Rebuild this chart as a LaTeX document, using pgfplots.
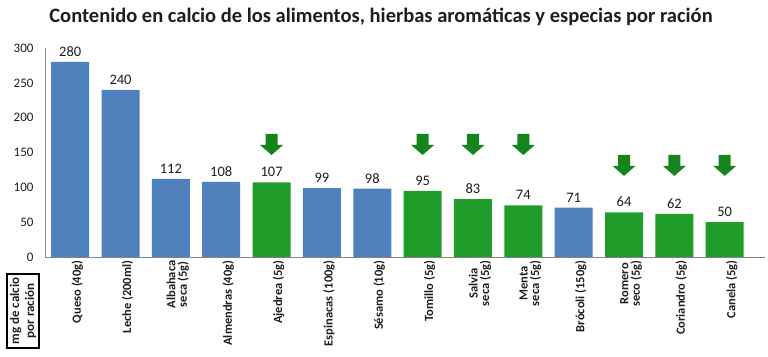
\documentclass[border=0pt]{standalone}
\usepackage{pgfplots}
\pgfplotsset{compat=1.18}
\usepackage{fontspec}
\setmainfont{Carlito}
\definecolor{barblue}{RGB}{79,129,189}
\definecolor{bargreen}{RGB}{31,156,41}
\definecolor{arrowgreen}{RGB}{22,132,28}
\definecolor{axisgray}{RGB}{134,134,134}
\definecolor{txt}{RGB}{30,30,30}
\pgfdeclareplotmark{downarrow}{%
 \pgfpathmoveto{\pgfpoint{-6pt}{10.5pt}}%
 \pgfpathlineto{\pgfpoint{6pt}{10.5pt}}%
 \pgfpathlineto{\pgfpoint{6pt}{-0.5pt}}%
 \pgfpathlineto{\pgfpoint{11.5pt}{-0.5pt}}%
 \pgfpathlineto{\pgfpoint{0pt}{-10.5pt}}%
 \pgfpathlineto{\pgfpoint{-11.5pt}{-0.5pt}}%
 \pgfpathlineto{\pgfpoint{-6pt}{-0.5pt}}%
 \pgfpathclose
 \pgfusepathqfill}
\begin{document}
\begin{tikzpicture}
\useasboundingbox (-45pt,-99pt) rectangle (723pt,257pt);
\begin{axis}[
  at={(0pt,0pt)}, anchor=south west,
  scale only axis, width=720pt, height=209pt,
  xmin=-0.5, xmax=13.8, ymin=0, ymax=300,
  enlargelimits=false,
  axis x line*=bottom, axis y line*=left,
  axis line style={-, draw=axisgray},
  major tick length=0pt,
  ytick={0,50,...,300},
  xtick={0,...,13},
  xticklabels={Queso (40g), Leche (200ml), {Albahaca\\seca (5g)}, Almendras (40g), Ajedrea (5g), Espinacas (100g), Sésamo (10g), Tomillo (5g), {Salvia\\seca (5g)}, {Menta\\seca (5g)}, Brócoli (150g), {Romero\\seco (5g)}, Coriandro (5g), Canela (5g)},
  x tick label style={rotate=90, anchor=east, align=center, text=txt, font=\bfseries\fontsize{12.5}{11.5}\selectfont, yshift=-7pt},
  y tick label style={text=txt, font=\fontsize{13}{15}\selectfont, xshift=-8pt},
  /pgf/number format/assume math mode=true,
  ybar, bar width=38pt,
  nodes near coords,
  every node near coord/.append style={text=txt, font=\fontsize{14.5}{16}\selectfont, yshift=2pt},
  clip=false,
]
\addplot[ybar, bar shift=0pt, fill=barblue, draw=none] coordinates {(0,280) (1,240) (2,112) (3,108) (5,99) (6,98) (10,71)};
\addplot[ybar, bar shift=0pt, fill=bargreen, draw=none] coordinates {(4,107) (7,95) (8,83) (9,74) (11,64) (12,62) (13,50)};
\addplot[only marks, mark=downarrow, color=arrowgreen, mark options={fill=arrowgreen, draw=none}, nodes near coords={}] coordinates {(4,161.5) (7,161.5) (8,161.5) (9,161.5) (11,131.5) (12,131.5) (13,131.5)};
\end{axis}
\node[text=txt, font=\bfseries\fontsize{20.5}{24}\selectfont] at (336pt,240pt) {Contenido en calcio de los alimentos, hierbas aromáticas y especias por ración};
\node[draw=black, line width=2pt, rotate=90, align=center, inner xsep=4pt, inner ysep=3pt, text=txt, font=\bfseries\fontsize{13}{15}\selectfont] at (-22pt,-54pt) {mg de calcio\\por ración};
\end{tikzpicture}
\end{document}
